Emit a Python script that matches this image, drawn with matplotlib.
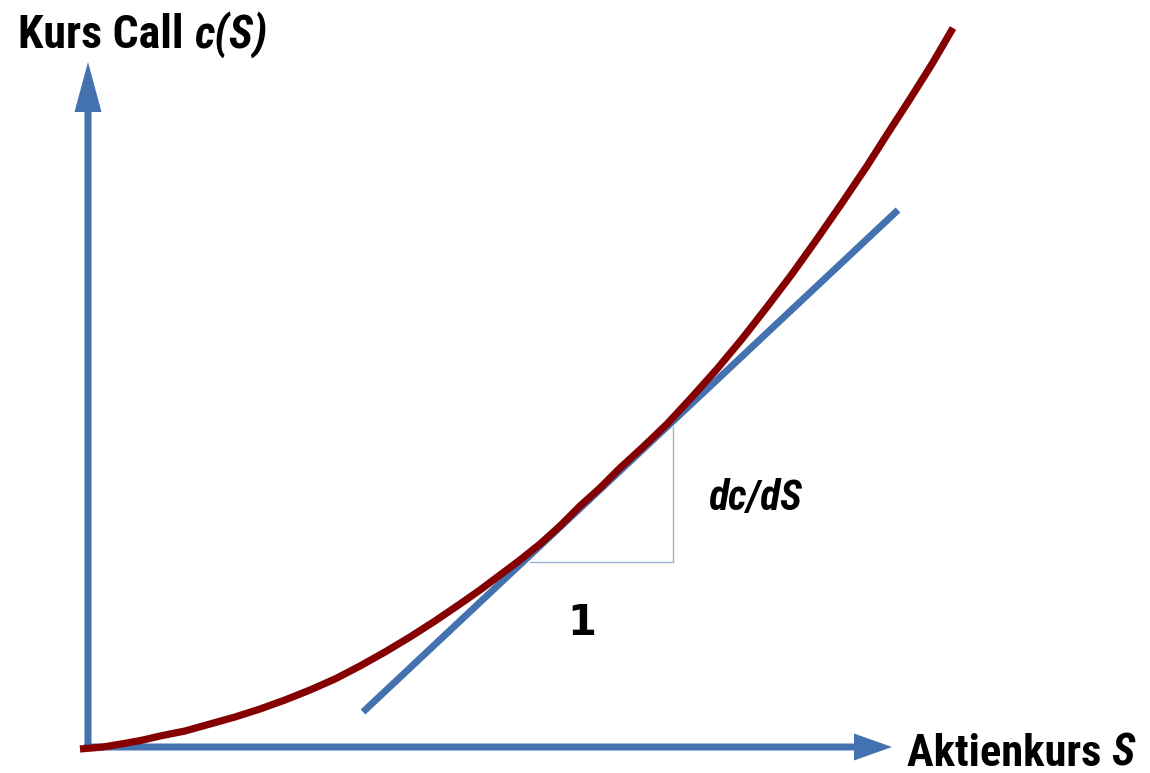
import matplotlib
matplotlib.use('Agg')
import matplotlib.pyplot as plt

# Callpreis c(S) ueber Aktienkurs S (Schema, Ursprung = Achsenkreuz)
S_call = [-8, 15, 39, 55, 72, 97, 122, 147, 172, 197, 222, 247, 272, 297,
          322, 347, 372, 392, 412, 432, 452, 472, 492, 512, 532, 555, 579,
          604, 629, 654, 679, 704, 729, 754, 779, 800, 822, 844, 865]
c_call = [-2, 0, 4, 7, 11, 16, 23, 30, 38, 47, 57, 68, 81, 95,
          110, 126, 143, 157, 172, 187, 203, 221, 241, 259, 279, 300, 323,
          350, 378, 408, 440, 473, 508, 544, 581, 614, 648, 683, 719]

# Tangente (Delta)
S_tan = [275, 810]
c_tan = [35, 537]

# Steigungsdreieck
S_tri = [442, 585, 585]
c_tri = [185, 185, 320]

x_label = 'Aktienkurs '
y_label = 'Kurs Call '
slope_label = 'dc/dS'
run_label = '1'

blue = '#4472b0'
red = '#850000'
narrow = ['Roboto Condensed', 'DejaVu Sans']

fig = plt.figure(figsize=(11.5, 7.73), dpi=100)
ax = fig.add_axes([0, 0, 1, 1])
ax.set_xlim(-88, 1062)
ax.set_ylim(-26, 747)
ax.axis('off')

# Achsen mit Pfeilspitzen
ax.arrow(-4, 0, 808, 0, width=7, head_width=27, head_length=38,
         length_includes_head=True, color=blue, lw=0)
ax.arrow(0, -4, 0, 689, width=7, head_width=27, head_length=50,
         length_includes_head=True, color=blue, lw=0)

ax.plot(S_tri, c_tri, color='#9db4d4', lw=1.0, zorder=2)
ax.plot(S_tan, c_tan, color=blue, lw=5, solid_capstyle='butt', zorder=3)
ax.plot(S_call, c_call, color=red, lw=5.2, solid_capstyle='butt',
        solid_joinstyle='round', zorder=4)

t1 = ax.text(-70, 699, y_label, family=narrow, weight='bold', fontsize=33,
             va='baseline', ha='left')
t2 = ax.text(819, -19, x_label, family=narrow, weight='bold', fontsize=32,
             va='baseline', ha='left')
fig.canvas.draw()
r = fig.canvas.get_renderer()
inv = ax.transData.inverted()
e1 = t1.get_window_extent(r)
e2 = t2.get_window_extent(r)
ax.text(inv.transform((e1.x1, 0))[0], 699, 'c(S)', family=narrow,
        weight='bold', style='italic', fontsize=33, va='baseline', ha='left')
ax.text(inv.transform((e2.x1, 0))[0], -19, 'S', family=narrow,
        weight='bold', style='italic', fontsize=32, va='baseline', ha='left')

ax.text(620, 237, slope_label, family=narrow, weight='bold', style='italic',
        fontsize=30, va='baseline', ha='left')
ax.text(494, 112, run_label, family='DejaVu Sans', weight='bold',
        fontsize=30, va='baseline', ha='center')

fig.savefig('out.png', dpi=100)
